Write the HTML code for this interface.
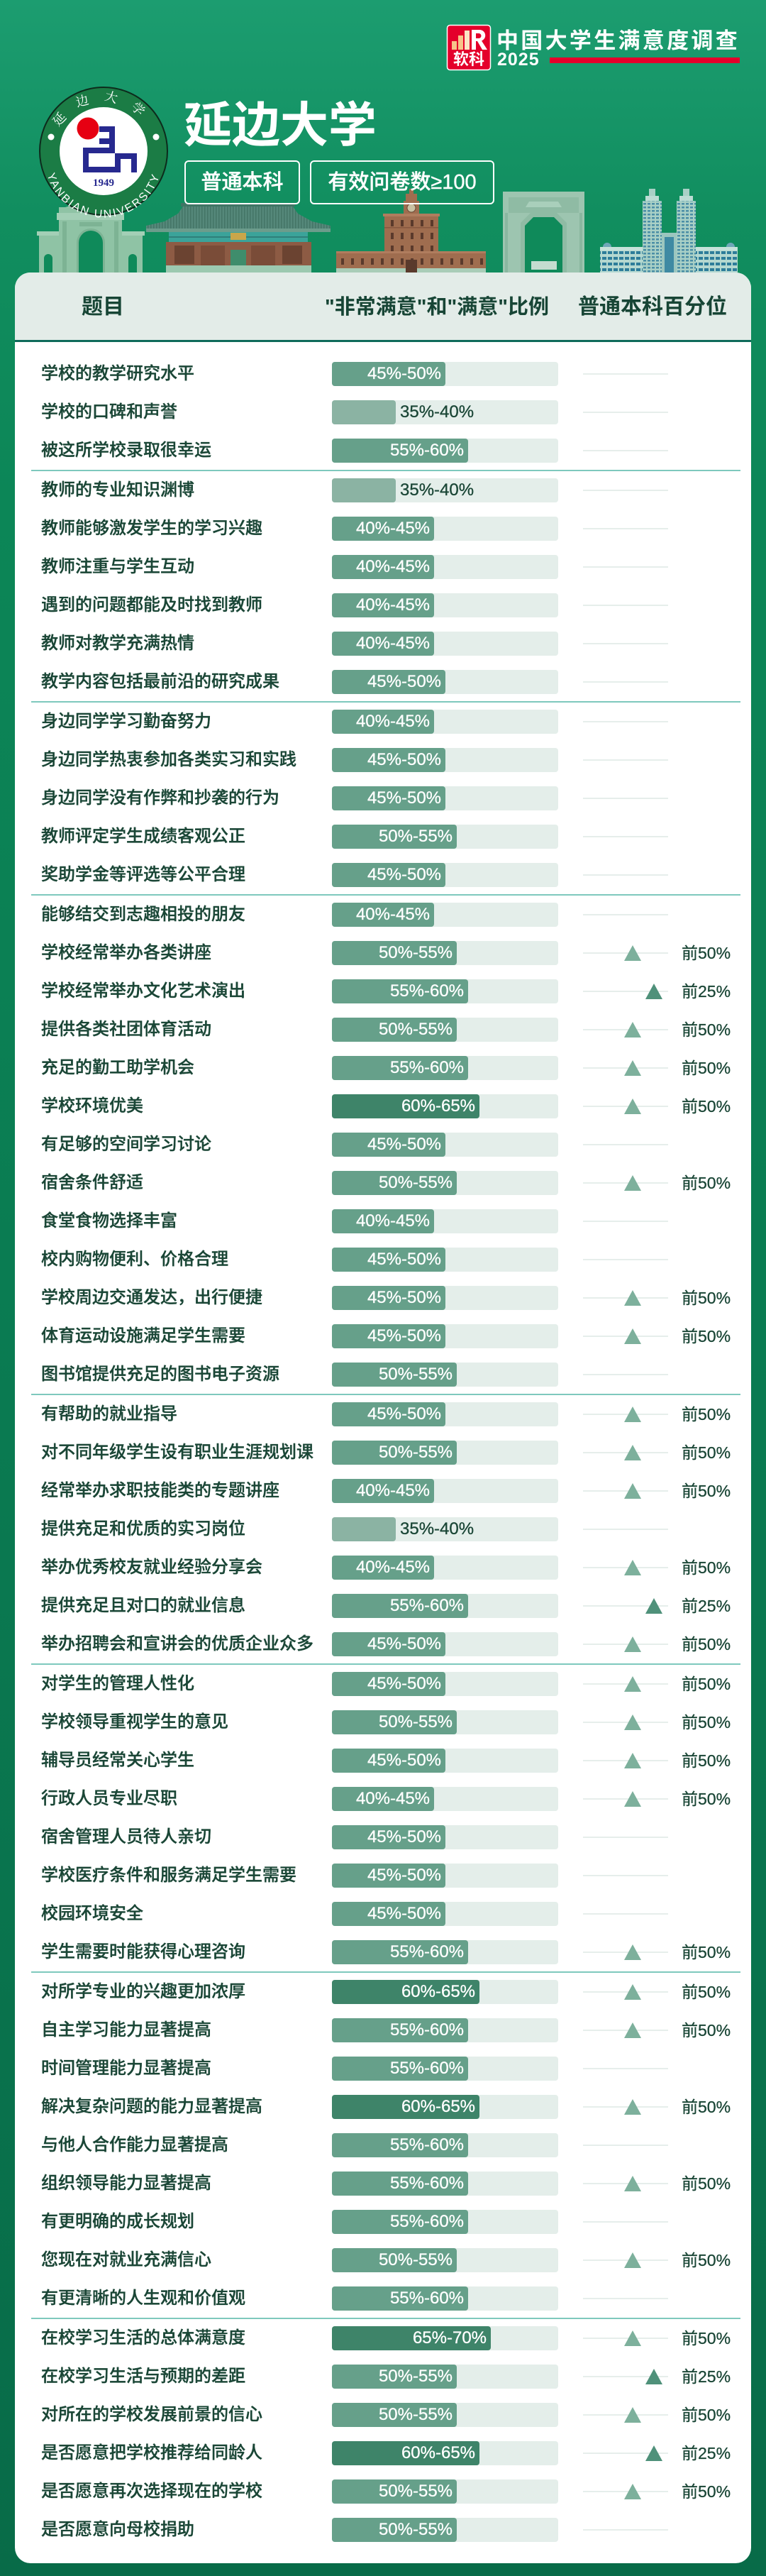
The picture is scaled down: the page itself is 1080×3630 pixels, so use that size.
<!DOCTYPE html>
<html><head><meta charset="utf-8">
<style>
*{margin:0;padding:0;box-sizing:border-box}
html,body{width:1080px;height:3630px;overflow:hidden}
body{position:relative;font-family:"Liberation Sans","Noto Sans CJK SC",sans-serif;
background:linear-gradient(180deg,#1c9d70 0px,#118e5f 300px,#0c8657 700px,#0a7a51 2000px,#086b48 3630px);}
.abs{position:absolute}
.card{position:absolute;left:21px;top:384px;width:1038px;height:3228px;background:#fff;border-radius:22px;overflow:hidden}
.hd{position:absolute;left:0;top:0;width:1038px;height:98px;background:#e3ece8;border-bottom:3px solid #0f6b5b}
.ht{position:absolute;top:384px;height:98px;line-height:98px;font-size:30px;font-weight:bold;color:#174535;white-space:nowrap}
.sep{position:absolute;left:44px;width:1000px;height:2px;background:#7ec9bd}
.r{position:absolute;left:0;width:1080px;height:54px}
.l{position:absolute;left:58px;top:0;line-height:54px;font-size:24px;color:#1a4636;white-space:nowrap;font-weight:500;-webkit-text-stroke:0.35px #1a4636}
.b{position:absolute;left:468px;top:10px;width:319px;height:34px;background:#e4eeea;border-radius:4px}
.f{position:absolute;left:0;top:0;height:34px;border-radius:4px;color:#fff;text-align:right;line-height:34px;font-size:24px;padding-right:6px;white-space:nowrap;-webkit-text-stroke:0.3px #fff}
.m{background:#66a08a}.d{background:#3e8469}.g{background:#8bb3a3}
.o{position:absolute;left:96px;top:0;line-height:34px;font-size:24px;color:#1a4636;white-space:nowrap;-webkit-text-stroke:0.3px #1a4636}
.p{position:absolute;left:822px;top:26px;width:120px;height:2px;background:#e6eeeb}
.t{position:absolute;top:16px;width:0;height:0;border-left:12.5px solid transparent;border-right:12.5px solid transparent;border-bottom:22px solid #7db09c}
.t5{left:880px}.t2{left:910px;border-bottom-color:#4f917a}
.q{position:absolute;left:961px;top:0;line-height:54px;font-size:23px;color:#1a4636;white-space:nowrap;-webkit-text-stroke:0.3px #1a4636}
.box{position:absolute;top:226px;height:62px;border:2px solid #fff;border-radius:6px;color:#fff;font-size:29px;line-height:58px;text-align:center;font-weight:500;white-space:nowrap;-webkit-text-stroke:0.4px #fff}
</style></head><body>

<!-- header graphics -->
<svg class="abs" style="left:0;top:0" width="1080" height="390" viewBox="0 0 1080 390">
 <defs>
  <pattern id="roof" width="4" height="10" patternUnits="userSpaceOnUse"><rect width="4" height="10" fill="#55887a"/><rect width="1.5" height="10" fill="#447566"/></pattern>
  <pattern id="win" width="6" height="5" patternUnits="userSpaceOnUse"><rect width="6" height="5" fill="#a9d0c6"/><rect x="1" y="1" width="4" height="2.5" fill="#4a8ea6"/></pattern>
  <pattern id="win2" width="8" height="8" patternUnits="userSpaceOnUse"><rect width="8" height="8" fill="#b4d8d0"/><rect x="1" y="2" width="6" height="4" fill="#2d7d9a"/></pattern>
  <pattern id="bw" width="14" height="18" patternUnits="userSpaceOnUse"><rect width="14" height="18" fill="#9f6d4f"/><rect x="5" y="4" width="4" height="9" fill="#5a3a2c"/></pattern>
  <path id="tp" d="M84.2,180.2 A70,70 0 0 1 207.8,180.2"/>
  <path id="bp" d="M63.8,224.5 A82,82 0 0 0 228.2,224.5"/>
 </defs>
 <!-- left gate -->
 <g>
  <rect x="55" y="330" width="28" height="54" fill="#8fc3a5"/>
  <rect x="172" y="330" width="29" height="54" fill="#8fc3a5"/>
  <rect x="52" y="326" width="34" height="6" fill="#a3cfb6"/>
  <rect x="169" y="326" width="35" height="6" fill="#a3cfb6"/>
  <polygon points="92,292 127,283 163,292" fill="#a3cfb6"/>
  <rect x="83" y="292" width="89" height="92" fill="#8fc3a5"/>
  <rect x="80" y="300" width="95" height="10" fill="#a3cfb6"/>
  <rect x="88" y="312" width="6" height="72" fill="#7db394"/>
  <rect x="161" y="312" width="6" height="72" fill="#7db394"/>
  <path d="M108,384 V342 A20,20 0 0 1 148,342 V384 Z" fill="#7db394"/>
  <path d="M111,384 V342 A17,17 0 0 1 145,342 V384 Z" fill="#0f8a5a"/>
  <path d="M62,384 V364 a6,6 0 0 1 12,0 V384 Z" fill="#0f8a5a"/>
  <path d="M181,384 V364 a6,6 0 0 1 12,0 V384 Z" fill="#0f8a5a"/>
  <rect x="112" y="313" width="32" height="6" fill="#7db394"/>
 </g>
 <!-- palace -->
 <g>
  <rect x="255" y="286" width="161" height="5" fill="#3f7565"/>
  <polygon points="258,291 413,291 420,301 440,312 466,318 466,327 206,327 206,318 232,312 251,301" fill="url(#roof)"/>
  <rect x="206" y="322" width="260" height="5" fill="#6c9c8c"/>
  <rect x="238" y="327" width="196" height="14" fill="#3ba39a"/>
  <rect x="238" y="333" width="196" height="2" fill="#2f7f7a"/>
  <rect x="234" y="341" width="205" height="43" fill="#8d5b44"/>
  <rect x="246" y="346" width="28" height="26" fill="#6b4331"/>
  <rect x="398" y="346" width="28" height="26" fill="#6b4331"/>
  <rect x="283" y="346" width="34" height="30" fill="#7a4c38"/>
  <rect x="354" y="346" width="34" height="30" fill="#7a4c38"/>
  <rect x="325" y="352" width="22" height="32" fill="#3f8d6c"/>
  <rect x="325" y="328" width="22" height="10" fill="#c9a64a"/>
  <rect x="234" y="374" width="205" height="10" fill="#9cc9b0"/>
 </g>
 <!-- brown clock building -->
 <g>
  <rect x="577" y="266" width="6" height="8" fill="#9f6d4f"/>
  <rect x="572" y="273" width="16" height="10" fill="#9f6d4f"/>
  <rect x="569" y="283" width="22" height="21" fill="#9f6d4f"/>
  <circle cx="580" cy="293" r="6" fill="#c9c1a3" stroke="#6b4a36" stroke-width="1"/>
  <rect x="542" y="303" width="76" height="81" fill="url(#bw)"/>
  <rect x="540" y="301" width="80" height="4" fill="#b07d5e"/>
  <rect x="474" y="356" width="211" height="28" fill="url(#bw)"/>
  <rect x="474" y="354" width="211" height="3" fill="#b07d5e"/>
  <rect x="542" y="320" width="76" height="1.5" fill="#87583f"/>
  <rect x="474" y="378" width="211" height="6" fill="#a9cdb8"/>
  <rect x="572" y="366" width="16" height="18" fill="#5a3a2c"/>
 </g>
 <!-- arch gate -->
 <g>
  <rect x="709" y="270" width="115" height="114" fill="#9dc5b0"/>
  <rect x="717" y="278" width="99" height="22" fill="#8fbba4"/>
  <polygon points="746,284 787,284 792,292 741,292" fill="#a9cfbb"/>
  <polygon points="734,384 734,314 748,300 785,300 799,314 799,384" fill="#8fbba4"/>
  <polygon points="740,384 740,318 752,306 781,306 793,318 793,384" fill="#0f8a5a"/>
  <rect x="749" y="368" width="36" height="12" fill="#c4dccf"/>
  <rect x="712" y="300" width="4" height="84" fill="#8ab7a0"/>
  <rect x="817" y="300" width="4" height="84" fill="#8ab7a0"/>
 </g>
 <!-- twin towers -->
 <g>
  <rect x="846" y="352" width="194" height="32" fill="url(#win2)"/>
  <rect x="846" y="348" width="194" height="5" fill="#c6e2da"/>
  <path d="M850,348 a6,6 0 0 1 12,0 Z M1024,348 a6,6 0 0 1 12,0 Z" fill="#6fa7b8"/>
  <rect x="933" y="328" width="21" height="56" fill="#9cc6bf"/>
  <rect x="937" y="334" width="13" height="50" fill="#3f8aa3"/>
  <rect x="915" y="266" width="9" height="16" fill="#a9d0c6"/>
  <rect x="963" y="266" width="9" height="16" fill="#a9d0c6"/>
  <rect x="910" y="276" width="19" height="8" fill="#bcdcd4"/>
  <rect x="958" y="276" width="19" height="8" fill="#bcdcd4"/>
  <rect x="906" y="283" width="27" height="101" fill="url(#win)"/>
  <rect x="954" y="283" width="27" height="101" fill="url(#win)"/>
 </g>
 <!-- university logo -->
 <circle cx="146" cy="213" r="90" fill="#1b7c45" stroke="#0d2b1c" stroke-width="2"/>
 <circle cx="146" cy="213" r="62" fill="#fff"/>
 <circle cx="124" cy="181" r="15.5" fill="#e60012"/>
 <path d="M140,182 H158 V212 H121 V239 H166 V220 H189 V243 M140,199 H158" stroke="#27298f" stroke-width="8" fill="none"/>
 <text x="146" y="262" text-anchor="middle" font-family="Liberation Serif,serif" font-weight="bold" font-size="15" fill="#27298f">1949</text>
 <circle cx="72" cy="193" r="4.5" fill="#fff"/>
 <circle cx="220" cy="193" r="4.5" fill="#fff"/>
 <text font-family="Noto Serif CJK SC,serif" font-size="18" fill="#fff" letter-spacing="20"><textPath href="#tp" startOffset="50%" text-anchor="middle">延边大学</textPath></text>
 <text font-family="Liberation Sans,sans-serif" font-size="16" fill="#fff" letter-spacing="2.5"><textPath href="#bp" startOffset="50%" text-anchor="middle">YANBIAN UNIVERSITY</textPath></text>
 <!-- ruanke logo -->
 <rect x="630.5" y="35.5" width="61" height="63" rx="4" fill="#e4002b" stroke="#fff" stroke-width="1.5"/>
 <rect x="637" y="58" width="7" height="12" fill="#f7c48a"/>
 <rect x="646" y="50" width="7" height="20" fill="#f7c48a"/>
 <rect x="655" y="43" width="7" height="27" fill="#fbe3c4"/>
 <path d="M665,42 h11 a8,8 0 0 1 3,15.5 l8,12.5 h-7 l-7,-12 h-2 v12 h-6 Z M671,47 v7 h4 a3.5,3.5 0 0 0 0,-7 Z" fill="#fff" fill-rule="evenodd"/>
 <text x="661" y="91" text-anchor="middle" font-family="Noto Sans CJK SC,sans-serif" font-weight="bold" font-size="22" fill="#fff">软科</text>
 <rect x="775" y="81" width="268" height="8" fill="#e4002b"/>
</svg>

<div class="abs" style="left:700px;top:38px;font-size:31px;line-height:34px;font-weight:bold;color:#fff;letter-spacing:3.3px;white-space:nowrap;font-family:'Noto Sans CJK SC',sans-serif">中国大学生满意度调查</div>
<div class="abs" style="left:701px;top:72px;font-size:25px;line-height:25px;font-weight:bold;color:#fff;letter-spacing:1px">2025</div>
<div class="abs" style="left:259px;top:137px;font-size:68px;line-height:68px;font-weight:bold;color:#fff;white-space:nowrap;font-family:'Noto Sans CJK SC',sans-serif">延边大学</div>
<div class="box" style="left:260px;width:163px">普通本科</div>
<div class="box" style="left:437px;width:260px">有效问卷数≥100</div>

<div class="card"><div class="hd"></div></div>
<div class="ht" style="left:115px">题目</div>
<div class="ht" style="left:458px;font-size:29px">"非常满意"和"满意"比例</div>
<div class="ht" style="left:815px">普通本科百分位</div>

<div class="sep" style="top:662px"></div>
<div class="sep" style="top:988px"></div>
<div class="sep" style="top:1260px"></div>
<div class="sep" style="top:1964px"></div>
<div class="sep" style="top:2344px"></div>
<div class="sep" style="top:2778px"></div>
<div class="sep" style="top:3266px"></div>

<div class="r" style="top:500px"><div class="l">学校的教学研究水平</div><div class="b"><div class="f m" style="width:160px">45%-50%</div></div><div class="p"></div></div>
<div class="r" style="top:554px"><div class="l">学校的口碑和声誉</div><div class="b"><div class="f g" style="width:90px"></div><span class="o">35%-40%</span></div><div class="p"></div></div>
<div class="r" style="top:608px"><div class="l">被这所学校录取很幸运</div><div class="b"><div class="f m" style="width:192px">55%-60%</div></div><div class="p"></div></div>

<div class="r" style="top:664px"><div class="l">教师的专业知识渊博</div><div class="b"><div class="f g" style="width:90px"></div><span class="o">35%-40%</span></div><div class="p"></div></div>
<div class="r" style="top:718px"><div class="l">教师能够激发学生的学习兴趣</div><div class="b"><div class="f m" style="width:144px">40%-45%</div></div><div class="p"></div></div>
<div class="r" style="top:772px"><div class="l">教师注重与学生互动</div><div class="b"><div class="f m" style="width:144px">40%-45%</div></div><div class="p"></div></div>
<div class="r" style="top:826px"><div class="l">遇到的问题都能及时找到教师</div><div class="b"><div class="f m" style="width:144px">40%-45%</div></div><div class="p"></div></div>
<div class="r" style="top:880px"><div class="l">教师对教学充满热情</div><div class="b"><div class="f m" style="width:144px">40%-45%</div></div><div class="p"></div></div>
<div class="r" style="top:934px"><div class="l">教学内容包括最前沿的研究成果</div><div class="b"><div class="f m" style="width:160px">45%-50%</div></div><div class="p"></div></div>

<div class="r" style="top:990px"><div class="l">身边同学学习勤奋努力</div><div class="b"><div class="f m" style="width:144px">40%-45%</div></div><div class="p"></div></div>
<div class="r" style="top:1044px"><div class="l">身边同学热衷参加各类实习和实践</div><div class="b"><div class="f m" style="width:160px">45%-50%</div></div><div class="p"></div></div>
<div class="r" style="top:1098px"><div class="l">身边同学没有作弊和抄袭的行为</div><div class="b"><div class="f m" style="width:160px">45%-50%</div></div><div class="p"></div></div>
<div class="r" style="top:1152px"><div class="l">教师评定学生成绩客观公正</div><div class="b"><div class="f m" style="width:176px">50%-55%</div></div><div class="p"></div></div>
<div class="r" style="top:1206px"><div class="l">奖助学金等评选等公平合理</div><div class="b"><div class="f m" style="width:160px">45%-50%</div></div><div class="p"></div></div>

<div class="r" style="top:1262px"><div class="l">能够结交到志趣相投的朋友</div><div class="b"><div class="f m" style="width:144px">40%-45%</div></div><div class="p"></div></div>
<div class="r" style="top:1316px"><div class="l">学校经常举办各类讲座</div><div class="b"><div class="f m" style="width:176px">50%-55%</div></div><div class="p"></div><div class="t t5"></div><div class="q">前50%</div></div>
<div class="r" style="top:1370px"><div class="l">学校经常举办文化艺术演出</div><div class="b"><div class="f m" style="width:192px">55%-60%</div></div><div class="p"></div><div class="t t2"></div><div class="q">前25%</div></div>
<div class="r" style="top:1424px"><div class="l">提供各类社团体育活动</div><div class="b"><div class="f m" style="width:176px">50%-55%</div></div><div class="p"></div><div class="t t5"></div><div class="q">前50%</div></div>
<div class="r" style="top:1478px"><div class="l">充足的勤工助学机会</div><div class="b"><div class="f m" style="width:192px">55%-60%</div></div><div class="p"></div><div class="t t5"></div><div class="q">前50%</div></div>
<div class="r" style="top:1532px"><div class="l">学校环境优美</div><div class="b"><div class="f d" style="width:208px">60%-65%</div></div><div class="p"></div><div class="t t5"></div><div class="q">前50%</div></div>
<div class="r" style="top:1586px"><div class="l">有足够的空间学习讨论</div><div class="b"><div class="f m" style="width:160px">45%-50%</div></div><div class="p"></div></div>
<div class="r" style="top:1640px"><div class="l">宿舍条件舒适</div><div class="b"><div class="f m" style="width:176px">50%-55%</div></div><div class="p"></div><div class="t t5"></div><div class="q">前50%</div></div>
<div class="r" style="top:1694px"><div class="l">食堂食物选择丰富</div><div class="b"><div class="f m" style="width:144px">40%-45%</div></div><div class="p"></div></div>
<div class="r" style="top:1748px"><div class="l">校内购物便利、价格合理</div><div class="b"><div class="f m" style="width:160px">45%-50%</div></div><div class="p"></div></div>
<div class="r" style="top:1802px"><div class="l">学校周边交通发达，出行便捷</div><div class="b"><div class="f m" style="width:160px">45%-50%</div></div><div class="p"></div><div class="t t5"></div><div class="q">前50%</div></div>
<div class="r" style="top:1856px"><div class="l">体育运动设施满足学生需要</div><div class="b"><div class="f m" style="width:160px">45%-50%</div></div><div class="p"></div><div class="t t5"></div><div class="q">前50%</div></div>
<div class="r" style="top:1910px"><div class="l">图书馆提供充足的图书电子资源</div><div class="b"><div class="f m" style="width:176px">50%-55%</div></div><div class="p"></div></div>

<div class="r" style="top:1966px"><div class="l">有帮助的就业指导</div><div class="b"><div class="f m" style="width:160px">45%-50%</div></div><div class="p"></div><div class="t t5"></div><div class="q">前50%</div></div>
<div class="r" style="top:2020px"><div class="l">对不同年级学生设有职业生涯规划课</div><div class="b"><div class="f m" style="width:176px">50%-55%</div></div><div class="p"></div><div class="t t5"></div><div class="q">前50%</div></div>
<div class="r" style="top:2074px"><div class="l">经常举办求职技能类的专题讲座</div><div class="b"><div class="f m" style="width:144px">40%-45%</div></div><div class="p"></div><div class="t t5"></div><div class="q">前50%</div></div>
<div class="r" style="top:2128px"><div class="l">提供充足和优质的实习岗位</div><div class="b"><div class="f g" style="width:90px"></div><span class="o">35%-40%</span></div><div class="p"></div></div>
<div class="r" style="top:2182px"><div class="l">举办优秀校友就业经验分享会</div><div class="b"><div class="f m" style="width:144px">40%-45%</div></div><div class="p"></div><div class="t t5"></div><div class="q">前50%</div></div>
<div class="r" style="top:2236px"><div class="l">提供充足且对口的就业信息</div><div class="b"><div class="f m" style="width:192px">55%-60%</div></div><div class="p"></div><div class="t t2"></div><div class="q">前25%</div></div>
<div class="r" style="top:2290px"><div class="l">举办招聘会和宣讲会的优质企业众多</div><div class="b"><div class="f m" style="width:160px">45%-50%</div></div><div class="p"></div><div class="t t5"></div><div class="q">前50%</div></div>

<div class="r" style="top:2346px"><div class="l">对学生的管理人性化</div><div class="b"><div class="f m" style="width:160px">45%-50%</div></div><div class="p"></div><div class="t t5"></div><div class="q">前50%</div></div>
<div class="r" style="top:2400px"><div class="l">学校领导重视学生的意见</div><div class="b"><div class="f m" style="width:176px">50%-55%</div></div><div class="p"></div><div class="t t5"></div><div class="q">前50%</div></div>
<div class="r" style="top:2454px"><div class="l">辅导员经常关心学生</div><div class="b"><div class="f m" style="width:160px">45%-50%</div></div><div class="p"></div><div class="t t5"></div><div class="q">前50%</div></div>
<div class="r" style="top:2508px"><div class="l">行政人员专业尽职</div><div class="b"><div class="f m" style="width:144px">40%-45%</div></div><div class="p"></div><div class="t t5"></div><div class="q">前50%</div></div>
<div class="r" style="top:2562px"><div class="l">宿舍管理人员待人亲切</div><div class="b"><div class="f m" style="width:160px">45%-50%</div></div><div class="p"></div></div>
<div class="r" style="top:2616px"><div class="l">学校医疗条件和服务满足学生需要</div><div class="b"><div class="f m" style="width:160px">45%-50%</div></div><div class="p"></div></div>
<div class="r" style="top:2670px"><div class="l">校园环境安全</div><div class="b"><div class="f m" style="width:160px">45%-50%</div></div><div class="p"></div></div>
<div class="r" style="top:2724px"><div class="l">学生需要时能获得心理咨询</div><div class="b"><div class="f m" style="width:192px">55%-60%</div></div><div class="p"></div><div class="t t5"></div><div class="q">前50%</div></div>

<div class="r" style="top:2780px"><div class="l">对所学专业的兴趣更加浓厚</div><div class="b"><div class="f d" style="width:208px">60%-65%</div></div><div class="p"></div><div class="t t5"></div><div class="q">前50%</div></div>
<div class="r" style="top:2834px"><div class="l">自主学习能力显著提高</div><div class="b"><div class="f m" style="width:192px">55%-60%</div></div><div class="p"></div><div class="t t5"></div><div class="q">前50%</div></div>
<div class="r" style="top:2888px"><div class="l">时间管理能力显著提高</div><div class="b"><div class="f m" style="width:192px">55%-60%</div></div><div class="p"></div></div>
<div class="r" style="top:2942px"><div class="l">解决复杂问题的能力显著提高</div><div class="b"><div class="f d" style="width:208px">60%-65%</div></div><div class="p"></div><div class="t t5"></div><div class="q">前50%</div></div>
<div class="r" style="top:2996px"><div class="l">与他人合作能力显著提高</div><div class="b"><div class="f m" style="width:192px">55%-60%</div></div><div class="p"></div></div>
<div class="r" style="top:3050px"><div class="l">组织领导能力显著提高</div><div class="b"><div class="f m" style="width:192px">55%-60%</div></div><div class="p"></div><div class="t t5"></div><div class="q">前50%</div></div>
<div class="r" style="top:3104px"><div class="l">有更明确的成长规划</div><div class="b"><div class="f m" style="width:192px">55%-60%</div></div><div class="p"></div></div>
<div class="r" style="top:3158px"><div class="l">您现在对就业充满信心</div><div class="b"><div class="f m" style="width:176px">50%-55%</div></div><div class="p"></div><div class="t t5"></div><div class="q">前50%</div></div>
<div class="r" style="top:3212px"><div class="l">有更清晰的人生观和价值观</div><div class="b"><div class="f m" style="width:192px">55%-60%</div></div><div class="p"></div></div>

<div class="r" style="top:3268px"><div class="l">在校学习生活的总体满意度</div><div class="b"><div class="f d" style="width:224px">65%-70%</div></div><div class="p"></div><div class="t t5"></div><div class="q">前50%</div></div>
<div class="r" style="top:3322px"><div class="l">在校学习生活与预期的差距</div><div class="b"><div class="f m" style="width:176px">50%-55%</div></div><div class="p"></div><div class="t t2"></div><div class="q">前25%</div></div>
<div class="r" style="top:3376px"><div class="l">对所在的学校发展前景的信心</div><div class="b"><div class="f m" style="width:176px">50%-55%</div></div><div class="p"></div><div class="t t5"></div><div class="q">前50%</div></div>
<div class="r" style="top:3430px"><div class="l">是否愿意把学校推荐给同龄人</div><div class="b"><div class="f d" style="width:208px">60%-65%</div></div><div class="p"></div><div class="t t2"></div><div class="q">前25%</div></div>
<div class="r" style="top:3484px"><div class="l">是否愿意再次选择现在的学校</div><div class="b"><div class="f m" style="width:176px">50%-55%</div></div><div class="p"></div><div class="t t5"></div><div class="q">前50%</div></div>
<div class="r" style="top:3538px"><div class="l">是否愿意向母校捐助</div><div class="b"><div class="f m" style="width:176px">50%-55%</div></div><div class="p"></div></div>

</body></html>
